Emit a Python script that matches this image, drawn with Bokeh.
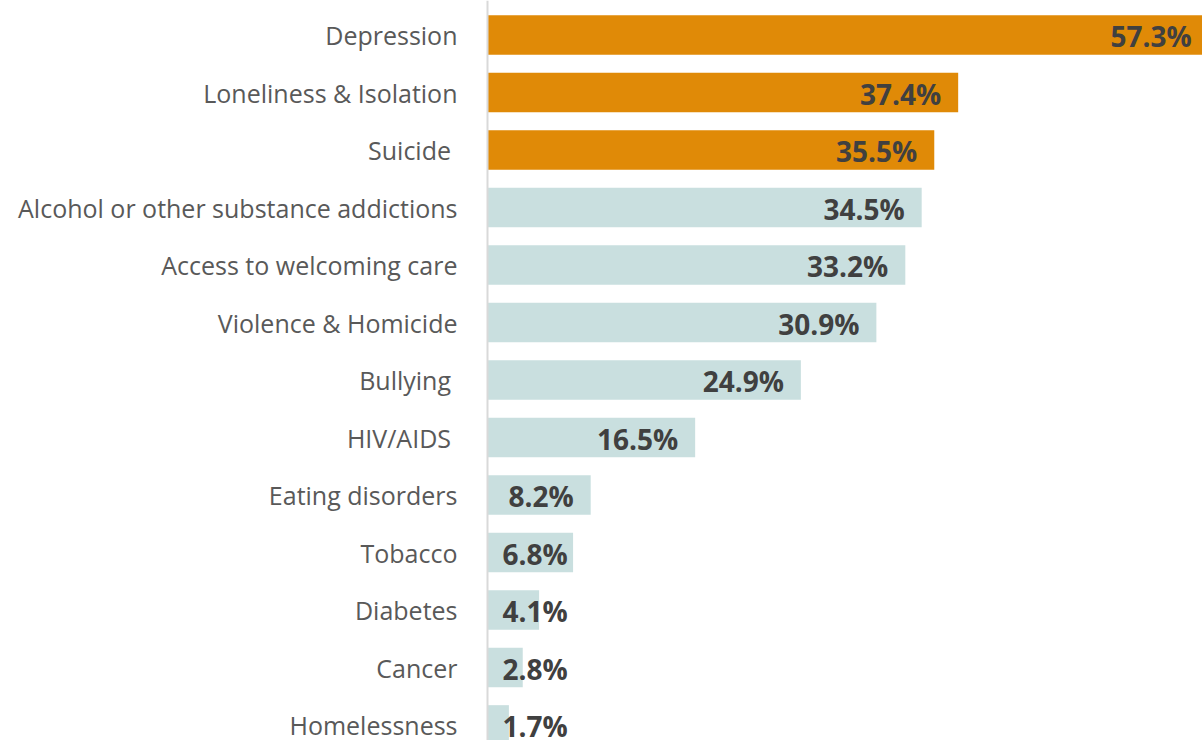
from bokeh.plotting import figure
from bokeh.models import ColumnDataSource, Range1d, LabelSet, Span
from bokeh.core.properties import value
from bokeh.embed import file_html
from bokeh.resources import INLINE

categories = ["Depression", "Loneliness & Isolation", "Suicide ",
              "Alcohol or other substance addictions", "Access to welcoming care",
              "Violence & Homicide", "Bullying ", "HIV/AIDS ", "Eating disorders",
              "Tobacco", "Diabetes", "Cancer", "Homelessness"]
values = [57.3, 37.4, 35.5, 34.5, 33.2, 30.9, 24.9, 16.5, 8.2, 6.8, 4.1, 2.8, 1.7]
highlighted = 3  # first three bars are highlighted

ORANGE = "#E08A07"
TEAL = "#C9DFDF"

W, H = 1202, 740
PX_PER_UNIT = 12.585
ZERO_PX = 487          # pixel distance of value 0 from frame left
ROW_PX = 57.5
FIRST_ROW_PX = 34.5

x0 = -ZERO_PX / PX_PER_UNIT
x1 = x0 + W / PX_PER_UNIT
y_top = -FIRST_ROW_PX / ROW_PX
y_bot = y_top + H / ROW_PX

ypos = list(range(len(categories)))
colors = [ORANGE if i < highlighted else TEAL for i in ypos]
labels = [f"{v:.1f}%" for v in values]
small = [v < 7.5 for v in values]

src = ColumnDataSource(dict(
    y=ypos, v=values, cat=categories, color=colors, label=labels,
    lx=[0 if s else v for s, v in zip(small, values)],
    align=["left" if s else "right" for s in small],
    xoff=[15 if s else -17 for s in small],
    zero=[0] * len(values),
))

p = figure(width=W, height=H, output_backend="svg", toolbar_location=None,
           x_range=Range1d(x0, x1), y_range=Range1d(y_bot, y_top),
           min_border=0, min_border_left=0, min_border_right=0,
           min_border_top=0, min_border_bottom=0)
p.axis.visible = False
p.grid.visible = False
p.outline_line_color = None
p.background_fill_color = "white"
p.border_fill_color = "white"

p.add_layout(Span(location=0, dimension="height", line_color="#D9D9D9", line_width=2))

p.hbar(y="y", left=0, right="v", height=0.69, color="color", line_color=None, source=src)

cat_labels = LabelSet(x="zero", y="y", text="cat", source=src, x_offset=-30,
                      text_align="right", text_baseline="middle",
                      text_font=value("Open Sans"), text_font_size="25px",
                      text_color="#595959")
p.add_layout(cat_labels)

val_labels = LabelSet(x="lx", y="y", text="label", source=src, x_offset="xoff", y_offset=-1,
                      text_align="align", text_baseline="middle",
                      text_font=value("Open Sans"), text_font_size="28px",
                      text_font_style="bold", text_color="#404040")
p.add_layout(val_labels)

open("out.html", "w").write(file_html(p, INLINE))
